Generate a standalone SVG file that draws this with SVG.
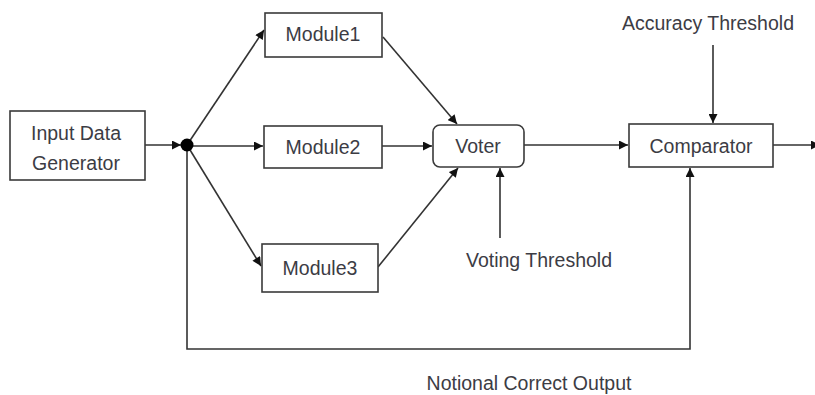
<svg xmlns="http://www.w3.org/2000/svg" width="815" height="395" viewBox="0 0 815 395">
<style>
.box{fill:#fff;stroke:#3a3a3a;stroke-width:1.6}
.t{font-family:"Liberation Sans",Arial,sans-serif;font-size:19.5px;fill:#3c3c44;text-anchor:middle;dominant-baseline:central}
.c{fill:none;stroke:#333;stroke-width:1.6}
</style>
<defs>
<marker id="ah" viewBox="0 0 10 10" refX="10" refY="5" markerWidth="10" markerHeight="9" markerUnits="userSpaceOnUse" orient="auto">
<path d="M0,0 L10,5 L0,10 z" fill="#111"/>
</marker>
</defs>
<rect width="815" height="395" fill="#fff"/>
<g id="connectors">
<line class="c" x1="145" y1="145" x2="181" y2="145" marker-end="url(#ah)"/>
<line class="c" x1="187" y1="145" x2="264" y2="30" marker-end="url(#ah)"/>
<line class="c" x1="187" y1="146" x2="263" y2="146" marker-end="url(#ah)"/>
<line class="c" x1="187" y1="145" x2="261" y2="266" marker-end="url(#ah)"/>
<line class="c" x1="383" y1="37" x2="457" y2="124" marker-end="url(#ah)"/>
<line class="c" x1="382" y1="146" x2="432" y2="146" marker-end="url(#ah)"/>
<line class="c" x1="378" y1="267" x2="458" y2="168" marker-end="url(#ah)"/>
<line class="c" x1="500" y1="238" x2="500" y2="168" marker-end="url(#ah)"/>
<line class="c" x1="524" y1="145" x2="628" y2="145" marker-end="url(#ah)"/>
<line class="c" x1="713" y1="45" x2="713" y2="123" marker-end="url(#ah)"/>
<line class="c" x1="773" y1="145" x2="820" y2="145" marker-end="url(#ah)"/>
<polyline class="c" points="187,145 187,349 690,349 690,168" marker-end="url(#ah)"/>
<circle cx="187" cy="145" r="6.5" fill="#000"/>
</g>
<g id="input">
<rect class="box" x="10" y="111" width="135" height="69"/>
<text class="t" x="76" y="133">Input Data</text>
<text class="t" x="76" y="163">Generator</text>
</g>
<g id="module1">
<rect class="box" x="265" y="13" width="117" height="44"/>
<text class="t" x="323" y="34">Module1</text>
</g>
<g id="module2">
<rect class="box" x="264" y="126" width="118" height="42"/>
<text class="t" x="323" y="147">Module2</text>
</g>
<g id="module3">
<rect class="box" x="262" y="244" width="116" height="48"/>
<text class="t" x="320" y="268">Module3</text>
</g>
<g id="voter">
<rect class="box" x="433" y="125" width="91" height="42" rx="7"/>
<text class="t" x="478" y="146">Voter</text>
</g>
<g id="comparator">
<rect class="box" x="629" y="124" width="144" height="43"/>
<text class="t" x="701" y="146">Comparator</text>
</g>
<g id="accuracy">
<text class="t" x="708" y="23">Accuracy Threshold</text>
</g>
<g id="voting">
<text class="t" x="539" y="260">Voting Threshold</text>
</g>
<g id="notional">
<text class="t" x="529" y="383">Notional Correct Output</text>
</g>
</svg>
